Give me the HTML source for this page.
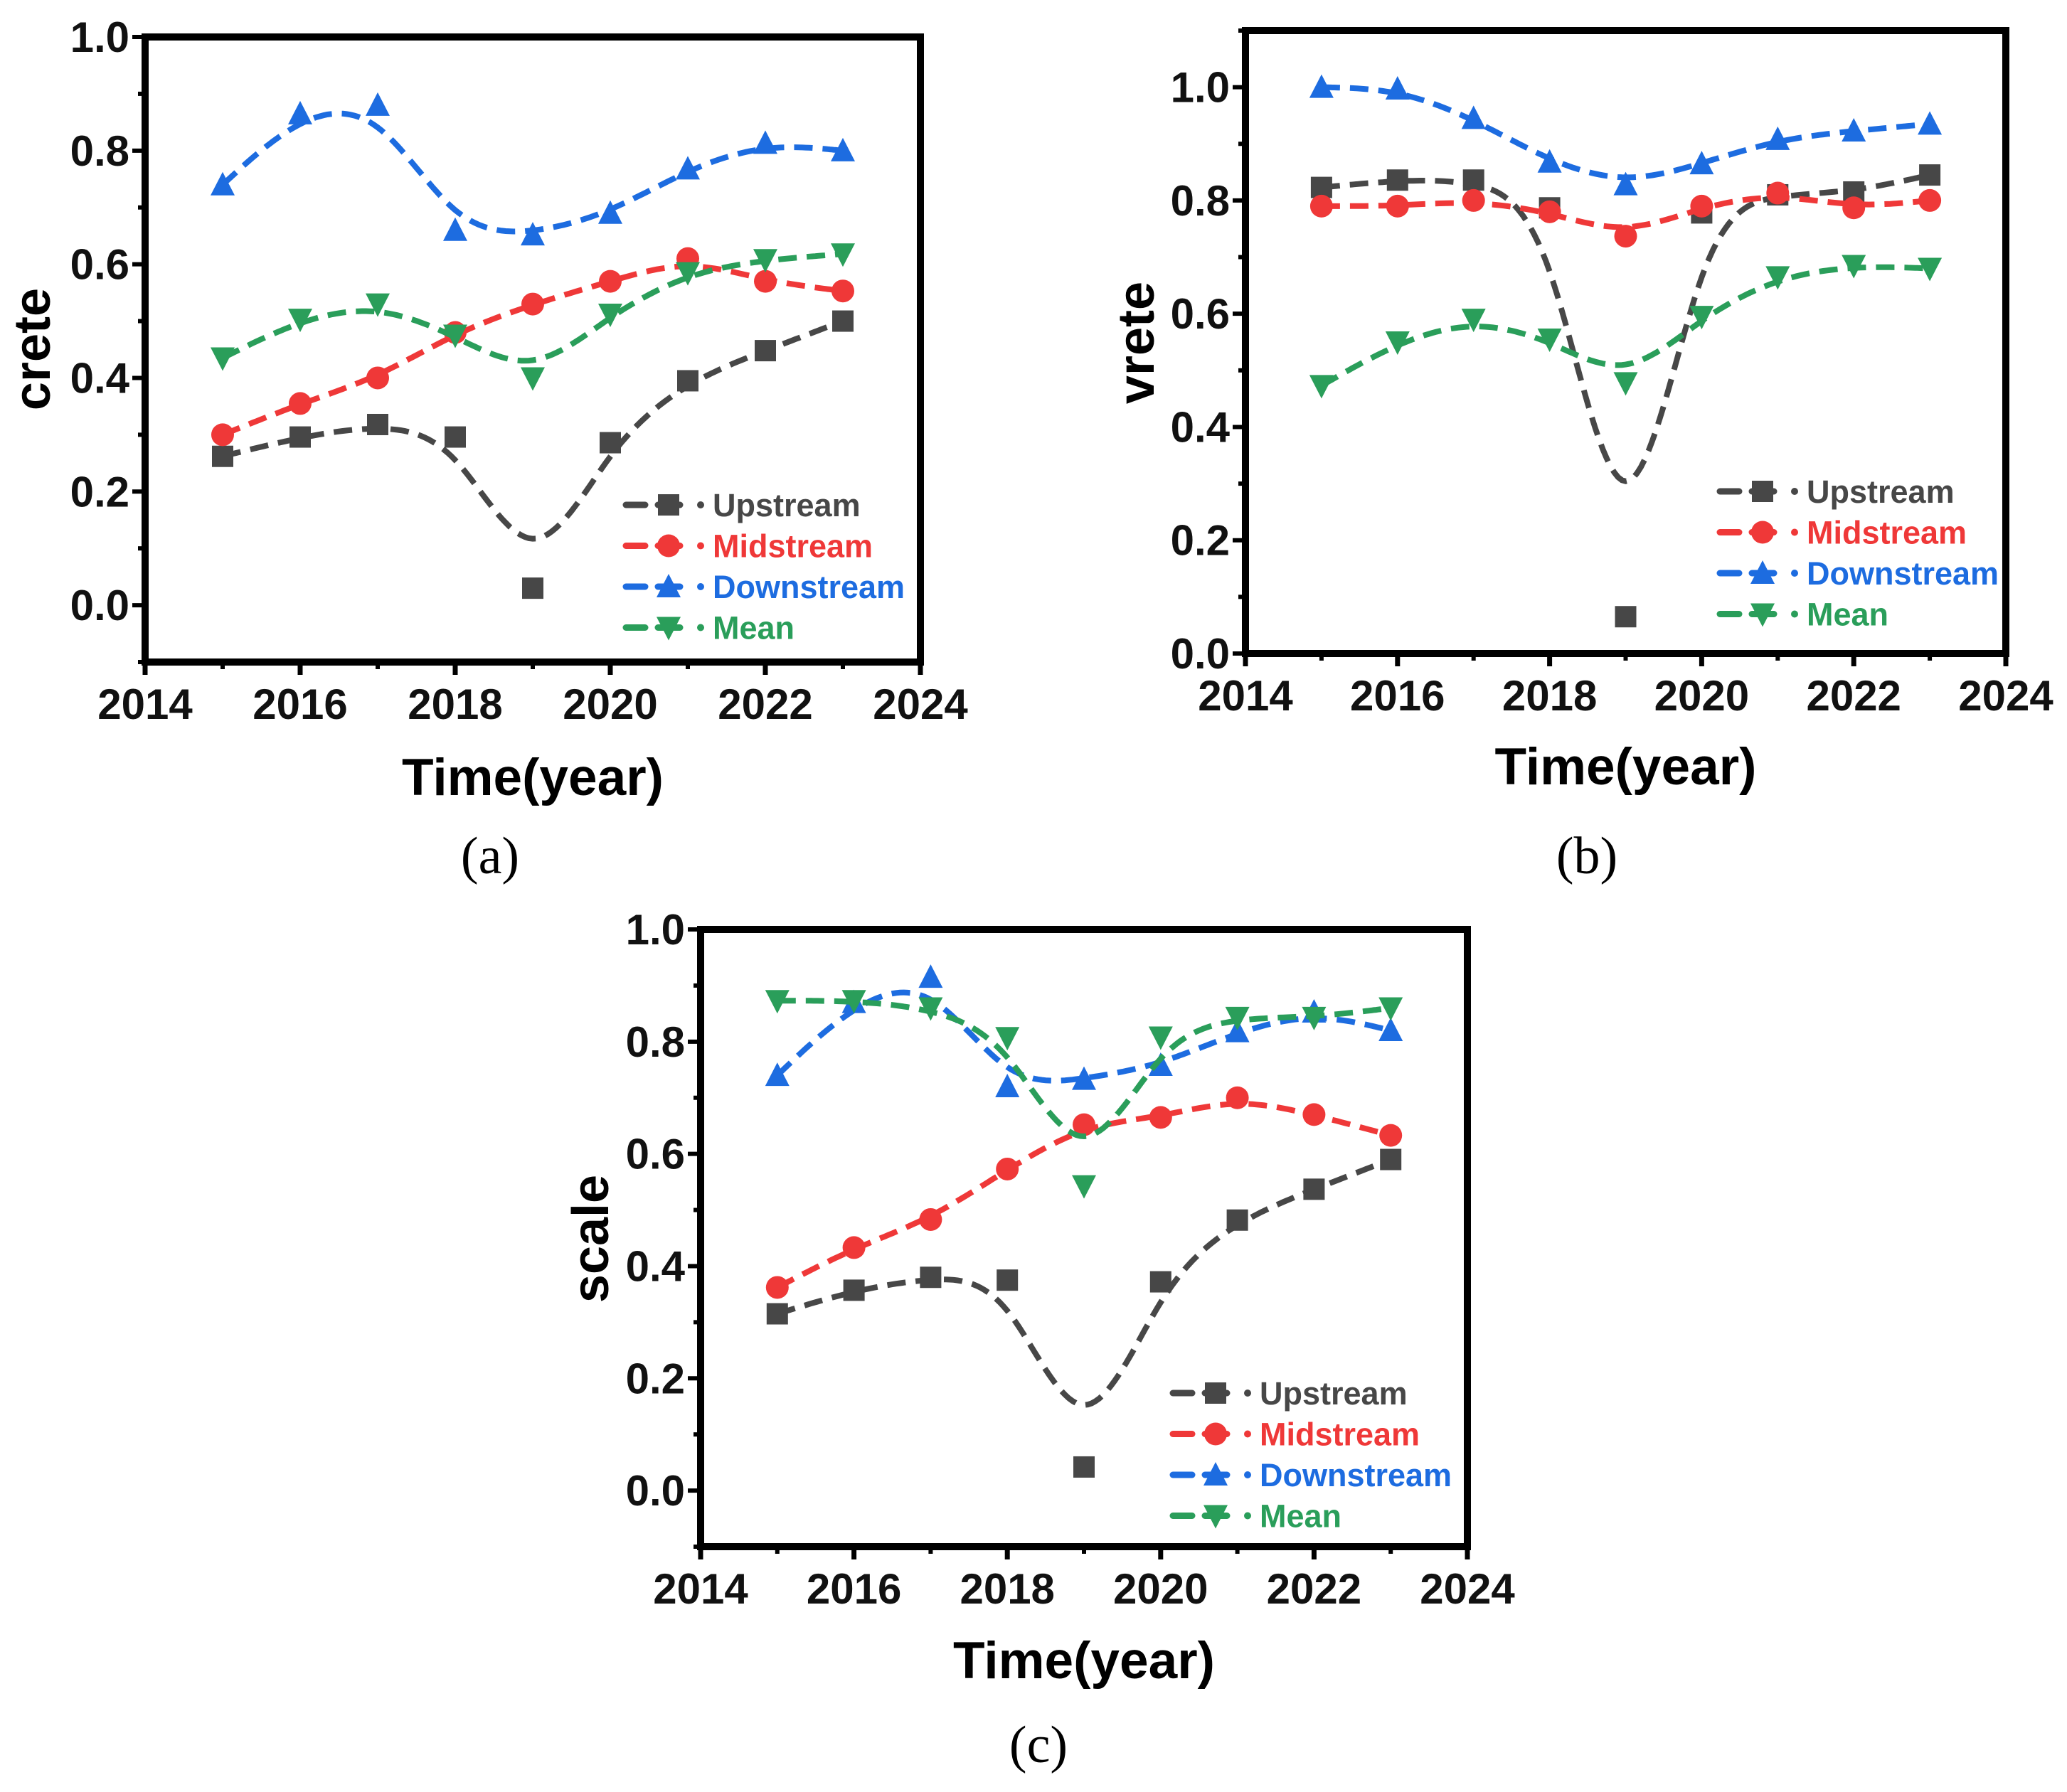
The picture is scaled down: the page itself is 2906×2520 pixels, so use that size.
<!DOCTYPE html>
<html><head><meta charset="utf-8"><style>
html,body{margin:0;padding:0;background:#fff;}
svg{display:block;}
text{font-family:"Liberation Sans",Arial,sans-serif;}
</style></head><body>
<svg id="fig" width="2906" height="2520" viewBox="0 0 2906 2520" xmlns="http://www.w3.org/2000/svg"></svg>
<script>
const years = [2015,2016,2017,2018,2019,2020,2021,2022,2023];
const xTicks = [2014,2016,2018,2020,2022,2024];
const yTicksA = [0.0,0.2,0.4,0.6,0.8,1.0];
const yTicksB = [0.0,0.2,0.4,0.6,0.8,1.0];
const yTicksC = [0.0,0.2,0.4,0.6,0.8,1.0];
const seriesNames = ["Upstream","Midstream","Downstream","Mean"];
// Panel (a) crete
const creteUp   = [0.262,0.296,0.318,0.296,0.030,0.286,0.395,0.448,0.500];
const creteMid  = [0.300,0.355,0.400,0.480,0.530,0.570,0.610,0.570,0.553];
const creteDown = [0.740,0.865,0.880,0.660,0.652,0.690,0.768,0.813,0.800];
const creteMean = [0.435,0.503,0.530,0.475,0.400,0.512,0.585,0.608,0.618];
// Panel (b) vrete
const vreteUp   = [0.823,0.836,0.836,0.787,0.065,0.778,0.810,0.815,0.845];
const vreteMid  = [0.790,0.790,0.800,0.780,0.737,0.790,0.813,0.787,0.800];
const vreteDown = [1.000,0.997,0.945,0.868,0.828,0.865,0.908,0.923,0.935];
const vreteMean = [0.473,0.550,0.590,0.555,0.478,0.595,0.665,0.685,0.680];
// Panel (c) scale
const scaleUp   = [0.315,0.357,0.380,0.375,0.042,0.372,0.482,0.537,0.590];
const scaleMid  = [0.362,0.433,0.483,0.573,0.652,0.665,0.700,0.670,0.633];
const scaleDown = [0.740,0.870,0.915,0.720,0.733,0.758,0.818,0.853,0.820];
const scaleMean = [0.873,0.873,0.860,0.807,0.543,0.808,0.843,0.843,0.860];

const NS="http://www.w3.org/2000/svg";
const svg=document.getElementById('fig');
const colors=["#474747","#ef3838","#1d6ce0","#2a9e5a"];
const markers=["square","circle","triangle","tridown"];

function mk(tag,attrs,parent){const e=document.createElementNS(NS,tag);for(const k in attrs)e.setAttribute(k,attrs[k]);(parent||svg).appendChild(e);return e;}

function markerEl(type,cx,cy,color,g){
  let e;
  const s=15;
  if(type==="square") e=mk('rect',{x:cx-s,y:cy-s,width:2*s,height:2*s,fill:color},g);
  else if(type==="circle") e=mk('circle',{cx:cx,cy:cy,r:s+1,fill:color},g);
  else if(type==="triangle") e=mk('polygon',{points:`${cx},${cy-s-3} ${cx+s+2},${cy+s} ${cx-s-2},${cy+s}`,fill:color},g);
  else e=mk('polygon',{points:`${cx},${cy+s+3} ${cx+s+2},${cy-s} ${cx-s-2},${cy-s}`,fill:color},g);
  return e;
}

function bsplinePath(pts){
  const P=[pts[0],pts[0],...pts,pts[pts.length-1],pts[pts.length-1]];
  let d="";
  for(let i=0;i<P.length-3;i++){
    for(let k=0;k<=20;k++){
      const t=k/20,t2=t*t,t3=t2*t;
      const b0=(1-t)**3/6,b1=(3*t3-6*t2+4)/6,b2=(-3*t3+3*t2+3*t+1)/6,b3=t3/6;
      const x=b0*P[i][0]+b1*P[i+1][0]+b2*P[i+2][0]+b3*P[i+3][0];
      const y=b0*P[i][1]+b1*P[i+1][1]+b2*P[i+2][1]+b3*P[i+3][1];
      d+=(d?"L":"M")+x.toFixed(1)+","+y.toFixed(1);
    }
  }
  return d;
}

function panel(o){
  const g=mk('g',{});
  
  
  const X=v=>o.L+(v-2014)/10*(o.R-o.L);
  const Y=v=>o.B-(v-o.ymin)/(o.ymax-o.ymin)*(o.B-o.T);
  for(let v=2015;v<=2023;v+=2){const t=mk('line',{x1:X(v),x2:X(v),y1:o.B,y2:o.B+10,stroke:"#000","stroke-width":6},g);}
  xTicks.forEach(v=>{
    const t=mk('line',{x1:X(v),x2:X(v),y1:o.B,y2:o.B+18,stroke:"#000","stroke-width":7},g);
    
    const l=mk('text',{x:X(v),y:o.B+80,"text-anchor":"middle","font-size":60,"font-weight":"bold",fill:"#111"},g);
    l.textContent=v;
  });
  for(let v=Math.ceil(o.ymin*10);v<=Math.floor(o.ymax*10);v++){
    const t=mk('line',{x1:o.L-(v%2?10:18),x2:o.L,y1:Y(v/10),y2:Y(v/10),stroke:"#000","stroke-width":6},g);
    
  }
  o.yTicks.forEach(v=>{
    const l=mk('text',{x:o.L-22,y:Y(v)+21,"text-anchor":"end","font-size":60,"font-weight":"bold",fill:"#111"},g);
    l.textContent=v.toFixed(1);
  });
  o.series.forEach((vals,i)=>{
    const sg=mk('g',{},g);
    
    
    const pts=vals.map((v,j)=>[X(years[j]),Y(v)]);
    const p=mk('path',{d:bsplinePath(pts),fill:"none",stroke:colors[i],"stroke-width":8,"stroke-dasharray":"26 14","stroke-linecap":"butt"},sg);
    
    pts.forEach(q=>{const m=markerEl(markers[i],q[0],q[1],colors[i],sg);});
  });
  const f=mk('rect',{x:o.L,y:o.T,width:o.R-o.L,height:o.B-o.T,fill:"none",stroke:"#000","stroke-width":10},g);
  
  const lg=mk('g',{},g);
  
  seriesNames.forEach((n,i)=>{
    const y=o.legY+i*57.5, x=o.legX;
    const e=mk('g',{},lg);
    
    mk('line',{x1:x,x2:x+27,y1:y,y2:y,stroke:colors[i],"stroke-width":9,"stroke-linecap":"round"},e);
    mk('line',{x1:x+45,x2:x+76,y1:y,y2:y,stroke:colors[i],"stroke-width":9,"stroke-linecap":"round"},e);
    markerEl(markers[i],x+60,y,colors[i],e);
    mk('circle',{cx:x+105,cy:y,r:5,fill:colors[i]},e);
    const t=mk('text',{x:x+122,y:y+16,"font-size":45,"font-weight":"bold",fill:colors[i]},e);t.textContent=n;
  });
  const xt=mk('text',{x:(o.L+o.R)/2,y:o.xTitleY,"text-anchor":"middle","font-size":73,"font-weight":"bold",fill:"#000"},g);
  xt.textContent="Time(year)";
  const yt=mk('text',{x:0,y:0,transform:`translate(${o.yTitleX},${o.yTitleY}) rotate(-90)`,"text-anchor":"middle","font-size":72,"font-weight":"bold",fill:"#000"},g);
  yt.textContent=o.yTitle;
  const cp=mk('text',{x:o.capX,y:o.capY,"text-anchor":"middle","font-size":74,fill:"#000",style:'font-family:"Liberation Serif",serif'},g);
  cp.textContent=o.cap;
}

panel({name:"chart-a-crete",L:204,R:1294,T:52,B:931,ymin:-0.1,ymax:1.0,yTicks:yTicksA,
  series:[creteUp,creteMid,creteDown,creteMean],legX:880,legY:710,
  xTitleY:1118,yTitle:"crete",yTitleX:70,yTitleY:491,cap:"(a)",capX:689,capY:1228});
panel({name:"chart-b-vrete",L:1751,R:2820,T:43,B:919,ymin:0,ymax:1.1,yTicks:yTicksB,
  series:[vreteUp,vreteMid,vreteDown,vreteMean],legX:2418,legY:691,
  xTitleY:1103,yTitle:"vrete",yTitleX:1622,yTitleY:482,cap:"(b)",capX:2231,capY:1228});
panel({name:"chart-c-scale",L:985,R:2063,T:1307,B:2175,ymin:-0.1,ymax:1.0,yTicks:yTicksC,
  series:[scaleUp,scaleMid,scaleDown,scaleMean],legX:1649,legY:1959,
  xTitleY:2360,yTitle:"scale",yTitleX:855,yTitleY:1742,cap:"(c)",capX:1460,capY:2478});
</script>
</body></html>
